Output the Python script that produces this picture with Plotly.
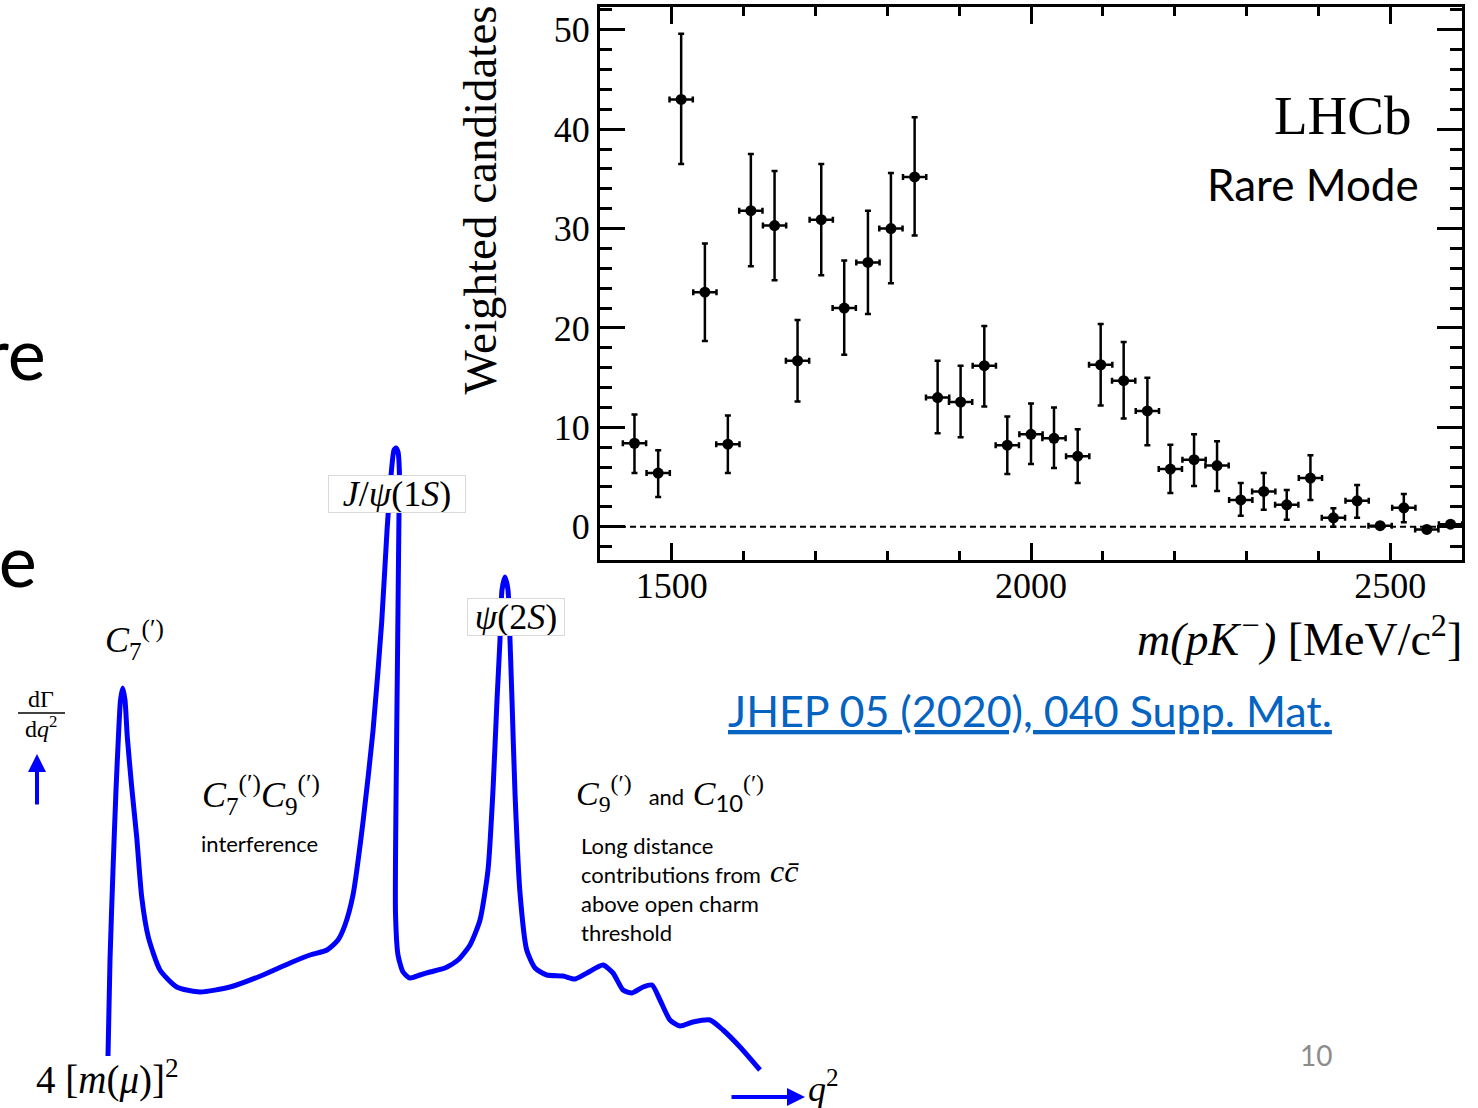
import plotly.graph_objects as go

# ---------------- LHCb data (Weighted candidates vs m(pK-)) ----------------
mass_centers = [1448, 1481, 1513, 1546, 1578, 1610, 1643, 1675, 1708, 1740, 1773, 1805,
                1838, 1870, 1902, 1935, 1967, 2000, 2032, 2065, 2097, 2129, 2162, 2194,
                2227, 2259, 2292, 2324, 2356, 2389, 2421, 2454, 2486, 2519, 2551, 2584]
candidates = [8.4, 5.4, 43.0, 23.6, 8.3, 31.8, 30.3, 16.7, 30.9, 22.0, 26.6, 30.0,
              35.2, 13.0, 12.55, 16.2, 8.2, 9.3, 8.9, 7.1, 16.3, 14.7, 11.65, 5.8,
              6.75, 6.15, 2.7, 3.55, 2.2, 4.9, 0.9, 2.6, 0.1, 1.9, -0.27, 0.25]
err_up = [2.9, 2.3, 6.6, 4.9, 2.9, 5.7, 5.5, 4.1, 5.6, 4.8, 5.2, 5.6,
          6.0, 3.7, 3.65, 4.0, 2.9, 3.1, 3.1, 2.7, 4.1, 3.9, 3.35, 2.45,
          2.55, 2.45, 1.7, 1.85, 1.5, 2.3, 0.95, 1.6, 0.25, 1.4, 0.2, 0.2]
err_down = [3.0, 2.4, 6.5, 4.9, 2.9, 5.6, 5.5, 4.1, 5.6, 4.7, 5.2, 5.5,
            5.9, 3.6, 3.55, 4.1, 2.9, 3.0, 3.0, 2.7, 4.1, 3.8, 3.45, 2.4,
            2.65, 2.55, 1.6, 1.85, 1.5, 2.2, 0.9, 1.7, 0.25, 1.45, 0.2, 0.2]
bin_half_width = 16.2
x_tick_vals = [1500, 2000, 2500]
y_tick_vals = [0, 10, 20, 30, 40, 50]
mass_range = [1400, 2600]
cand_range = [-3.35, 52.3]

# ---------------- q^2 spectrum sketch (arbitrary units) ----------------
sketch_q2 = [0.8, 1.0, 1.3, 1.6, 1.85, 2.05, 2.27, 2.5, 2.73, 3.17, 3.67, 4.17, 4.83, 6.0,
             7.67, 10.0, 13.0, 16.3, 19.0, 21.0, 22.7, 23.8, 24.5, 25.3, 26.3, 27.3, 28.17,
             28.7, 29.15, 29.4, 29.6, 29.8, 29.95, 29.9, 29.75, 29.6, 29.55, 29.8, 30.3,
             31.0, 32.0, 33.0, 34.5, 35.8, 37.0, 38.0, 38.8, 39.3, 39.7, 40.0, 40.2, 40.5,
             40.8, 41.0, 41.2, 41.5, 42.0, 42.67, 43.5, 44.67, 46.3, 47.5, 48.7, 50.3, 51.3,
             52.3, 53.2, 54.3, 55.2, 56.0, 57.0, 58.0, 59.3, 61.0, 62.3, 64.0, 66.0]
sketch_rate = [2.4, 12.0, 21.0, 29.0, 34.5, 38.0, 39.2, 38.0, 34.3, 29.3, 24.3, 18.3, 14.3, 11.0,
               9.3, 8.8, 9.3, 10.5, 11.7, 12.5, 13.0, 14.0, 15.5, 18.5, 25.8, 34.9, 45.8,
               54.9, 61.0, 63.0, 63.2, 62.8, 60.4, 56.7, 42.2, 27.7, 16.7, 12.5, 10.8,
               10.2, 10.5, 10.8, 11.2, 12.0, 13.5, 16.0, 21.0, 29.0, 38.0, 44.0, 49.0, 50.3,
               49.0, 44.0, 38.0, 28.7, 18.7, 13.0, 11.2, 10.5, 10.4, 10.1, 10.7, 11.5, 10.7,
               9.0, 8.7, 9.3, 9.5, 8.0, 6.0, 5.4, 5.8, 6.0, 5.0, 3.3, 1.0]

W, H = 1478, 1108
SERIF = "Liberation Serif"
SANS = "Lato"
BLUE = "#0000FF"


def px(x):
    return x / W


def py(y):
    return 1 - y / H


fig = go.Figure()

# dashed zero line
fig.add_trace(go.Scatter(x=mass_range, y=[0, 0], mode="lines",
                         line=dict(color="black", width=2, dash="6px,4px"),
                         hoverinfo="skip", showlegend=False, xaxis="x", yaxis="y"))

fig.add_trace(go.Scatter(
    x=mass_centers, y=candidates, mode="markers",
    marker=dict(color="black", size=11),
    error_y=dict(type="data", symmetric=False, array=err_up, arrayminus=err_down,
                 color="black", thickness=2.5, width=3),
    error_x=dict(type="constant", value=bin_half_width, color="black", thickness=2.5, width=3),
    showlegend=False, xaxis="x", yaxis="y"))

fig.add_trace(go.Scatter(x=sketch_q2, y=sketch_rate, mode="lines",
                         line=dict(color=BLUE, width=5, shape="spline", smoothing=0.6),
                         hoverinfo="skip", showlegend=False, xaxis="x2", yaxis="y2"))

tickfont = dict(family=SERIF, size=36, color="black")

fig.update_layout(
    width=W, height=H,
    margin=dict(l=0, r=0, t=0, b=0),
    paper_bgcolor="white", plot_bgcolor="rgba(0,0,0,0)",
    showlegend=False,
    xaxis=dict(domain=[600 / W, 1462 / W], range=mass_range, anchor="y",
               showline=True, linecolor="black", linewidth=3, mirror="allticks",
               ticks="inside", ticklen=17, tickwidth=2.5, tickcolor="black",
               tickvals=x_tick_vals, tickfont=tickfont, showgrid=False, zeroline=False,
               ticklabelstandoff=-8,
               minor=dict(ticks="inside", ticklen=9, tickwidth=2.5, tickcolor="black",
                          dtick=100, tick0=1400, showgrid=False),
               automargin=False),
    yaxis=dict(domain=[1 - 560 / H, 1 - 7 / H], range=cand_range, anchor="x",
               showline=True, linecolor="black", linewidth=3, mirror="allticks",
               ticks="inside", ticklen=25, tickwidth=2.5, tickcolor="black",
               tickvals=y_tick_vals, tickfont=tickfont, showgrid=False, zeroline=False,
               minor=dict(ticks="inside", ticklen=12, tickwidth=2.5, tickcolor="black",
                          dtick=2, tick0=0, showgrid=False),
               automargin=False),
    xaxis2=dict(domain=[0, 1], range=[-10, 137.8], anchor="y2", visible=False),
    yaxis2=dict(domain=[0, 1], range=[-2.8, 108], anchor="x2", visible=False),
)

ann = []


def text(t, x, y, size, family=SANS, color="black", xanchor="center", yanchor="middle", **kw):
    ann.append(dict(text=t, x=px(x), y=py(y), xref="paper", yref="paper",
                    xanchor=xanchor, yanchor=yanchor, showarrow=False,
                    font=dict(family=family, size=size, color=color), **kw))


# slide title fragments (cut off at the left edge in the original slide)
text("re", 48, 352, 72, xanchor="right")
text("ge", 39, 559, 72, xanchor="right")

# LHCb plot labels
text("LHCb", 1414, 115, 55, family=SERIF, xanchor="right")
text("Rare Mode", 1421, 184, 44, xanchor="right")
text("Weighted candidates", 479, 4, 47, family=SERIF, yanchor="top", textangle=-90)
text("<i>m(pK<sup>−</sup>)</i> [MeV/c<sup>2</sup>]", 1464, 636, 46, family=SERIF, xanchor="right")

# link and page number
text("<u>JHEP 05 (2020), 040 Supp. Mat.</u>", 1030, 710, 43, color="#0563C1")
text("10", 1316, 1055, 28, color="#8C8C8C")

# sketch labels
text("<i>J</i>/<i>ψ</i>(1<i>S</i>)", 397, 494, 36, family=SERIF,
     bgcolor="white", bordercolor="#D9D9D9", borderwidth=1, borderpad=0, width=136, height=36)
text("<i>ψ</i>(2<i>S</i>)", 515.5, 616.5, 36, family=SERIF,
     bgcolor="white", bordercolor="#D9D9D9", borderwidth=1, borderpad=0, width=96, height=36)
text("<i>C</i><sub>7</sub><sup>(′)</sup>", 134, 640, 36, family=SERIF)
text("<i>C</i><sub>7</sub><sup>(′)</sup><i>C</i><sub>9</sub><sup>(′)</sup>", 261, 795, 36, family=SERIF)
text("interference", 259, 843, 22)
text("<i>C</i><sub>9</sub><sup>(′)</sup>  <span style='font-family:Lato;font-size:22px'>and</span> "
     "<i>C</i><sub><span style='font-family:Lato'>10</span></sub><sup>(′)</sup>",
     574, 793, 34, family=SERIF, xanchor="left")
text("Long distance", 579, 845, 22, xanchor="left")
text("contributions from", 579, 874, 22, xanchor="left")
text("<i>cc̄</i>", 768, 871, 32, family=SERIF, xanchor="left")
text("above open charm", 579, 903, 22, xanchor="left")
text("threshold", 579, 932, 22, xanchor="left")
text("dΓ", 41, 699, 24, family=SERIF)
text("d<i>q</i><sup>2</sup>", 41, 727, 24, family=SERIF)
text("4 [<i>m</i>(<i>μ</i>)]<sup>2</sup>", 34, 1077, 39, family=SERIF, xanchor="left")
text("<i>q</i><sup>2</sup>", 806, 1086, 36, family=SERIF, xanchor="left")

# arrows (sketch axes)
ann.append(dict(x=-6.3, y=32.6, ax=-6.3, ay=27.4, xref="x2", yref="y2", axref="x2", ayref="y2",
                text="", showarrow=True, arrowhead=2, arrowsize=0.9, arrowwidth=4, arrowcolor=BLUE))
ann.append(dict(x=70.5, y=-1.7, ax=63.0, ay=-1.7, xref="x2", yref="y2", axref="x2", ayref="y2",
                text="", showarrow=True, arrowhead=2, arrowsize=0.9, arrowwidth=4, arrowcolor=BLUE))

fig.update_layout(annotations=ann)

# fraction bar of dGamma/dq^2
fig.add_shape(type="line", xref="paper", yref="paper", x0=px(18), x1=px(65), y0=py(713), y1=py(713),
              line=dict(color="black", width=1.5))

fig.write_html("out.html", config={"displayModeBar": False},
               post_script="document.body.style.margin='0';document.body.style.overflow='hidden';")
